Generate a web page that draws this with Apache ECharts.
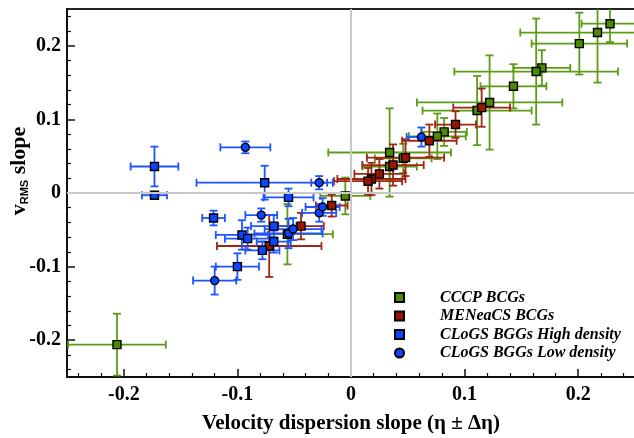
<!DOCTYPE html>
<html>
<head>
<meta charset="utf-8">
<script src="https://cdn.jsdelivr.net/npm/echarts@6/dist/echarts.min.js"></script>
<style>
  html, body { margin: 0; padding: 0; background: #fff; }
  #chart { width: 634px; height: 438px; }
</style>
</head>
<body>
<div id="chart"></div>
<script>
// Each row: [eta, vRMS slope, eta error, slope error]
const cccp = [
  [0.228, 0.230, 0.025, 0.025],
  [0.217, 0.218, 0.068, 0.068],
  [0.201, 0.203, 0.042, 0.042],
  [0.168, 0.170, 0.025, 0.024],
  [0.163, 0.165, 0.072, 0.072],
  [0.143, 0.145, 0.029, 0.030],
  [0.122, 0.123, 0.064, 0.064],
  [0.111, 0.112, 0.048, 0.047],
  [0.082, 0.083, 0.020, 0.019],
  [0.076, 0.077, 0.025, 0.031],
  [0.034, 0.055, 0.054, 0.060],
  [0.046, 0.047, 0.025, 0.020],
  [0.034, 0.036, 0.024, 0.020],
  [-0.005, -0.004, 0.022, 0.025],
  [-0.056, -0.056, 0.040, 0.041],
  [-0.206, -0.206, 0.043, 0.042]
];
const meneacs = [
  [0.115, 0.116, 0.025, 0.026],
  [0.092, 0.093, 0.018, 0.018],
  [0.069, 0.071, 0.024, 0.022],
  [0.048, 0.048, 0.034, 0.025],
  [0.037, 0.038, 0.027, 0.028],
  [0.025, 0.026, 0.022, 0.020],
  [0.018, 0.019, 0.030, 0.022],
  [0.015, 0.016, 0.030, 0.018],
  [-0.017, -0.017, 0.014, 0.015],
  [-0.044, -0.045, 0.020, 0.018],
  [-0.072, -0.072, 0.046, 0.042]
];
const clogsHigh = [
  [-0.173, 0.036, 0.021, 0.027],
  [-0.173, -0.003, 0.011, 0.004],
  [-0.076, 0.014, 0.060, 0.023],
  [-0.055, -0.006, 0.022, 0.012],
  [-0.121, -0.034, 0.010, 0.010],
  [-0.068, -0.045, 0.020, 0.015],
  [-0.096, -0.057, 0.023, 0.020],
  [-0.091, -0.062, 0.020, 0.015],
  [-0.068, -0.066, 0.015, 0.015],
  [-0.078, -0.078, 0.015, 0.012],
  [-0.100, -0.100, 0.019, 0.018]
];
const clogsLow = [
  [-0.093, 0.062, 0.022, 0.008],
  [-0.028, 0.014, 0.007, 0.009],
  [-0.079, -0.030, 0.014, 0.009],
  [-0.120, -0.119, 0.019, 0.019],
  [0.062, 0.076, 0.013, 0.013],
  [-0.055, -0.055, 0.030, 0.020],
  [-0.028, -0.027, 0.015, 0.012],
  [-0.025, -0.019, 0.015, 0.012],
  [-0.051, -0.049, 0.025, 0.015]
];

const groupNames = ['CCCP BCGs', 'MENeaCS BCGs', 'CLoGS BGGs High density', 'CLoGS BGGs Low density'];
const majorTicks = [-0.2, -0.1, 0, 0.1, 0.2];
const minorTicks = [-0.24, -0.22, -0.18, -0.16, -0.14, -0.12, -0.08, -0.06, -0.04, -0.02,
                    0.02, 0.04, 0.06, 0.08, 0.12, 0.14, 0.16, 0.18, 0.22, 0.24];

const SERIF = 'Liberation Serif';

function fmtTick(v) {
  if (Math.abs(v) < 1e-9) return '0';
  return v.toFixed(1);
}

// Cross-shaped error bars with end caps, drawn through the axis scales
function errorBars(rows, color, name) {
  return {
    type: 'custom',
    name: name + ' errors',
    data: rows,
    clip: true,
    silent: true,
    encode: { x: 0, y: 1 },
    renderItem: function (params, api) {
      const x = api.value(0), y = api.value(1), dx = api.value(2), dy = api.value(3);
      const L = api.coord([x - dx, y]), R = api.coord([x + dx, y]);
      const T = api.coord([x, y + dy]), B = api.coord([x, y - dy]);
      const c = 4;
      const st = { stroke: color, lineWidth: 1.8, fill: null };
      const seg = (x1, y1, x2, y2) => ({ type: 'line', shape: { x1, y1, x2, y2 }, style: st });
      return {
        type: 'group',
        children: [
          seg(L[0], L[1], R[0], R[1]),
          seg(L[0], L[1] - c, L[0], L[1] + c),
          seg(R[0], R[1] - c, R[0], R[1] + c),
          seg(T[0], T[1], B[0], B[1]),
          seg(T[0] - c, T[1], T[0] + c, T[1]),
          seg(B[0] - c, B[1], B[0] + c, B[1])
        ]
      };
    }
  };
}

function markers(rows, fill, symbol, name) {
  return {
    type: 'scatter',
    name: name,
    data: rows,
    encode: { x: 0, y: 1 },
    symbol: symbol,
    symbolSize: 8,
    silent: true,
    itemStyle: { color: fill, borderColor: '#000', borderWidth: 1.4, opacity: 1 }
  };
}

const GREEN = '#4b8b00', GREEN_BAR = '#5c9c16';
const RED = '#9b1500', RED_BAR = '#a02614';
const BLUE = '#0b46ff', BLUE_BAR = '#1f55ff';

const chart = echarts.init(document.getElementById('chart'), null, { renderer: 'canvas' });

const axisFont = { fontFamily: SERIF, fontWeight: 'bold', fontSize: 20, color: '#000' };

chart.setOption({
  animation: false,
  backgroundColor: '#fff',
  grid: {
    left: 67, top: 9, width: 568, height: 368,
    show: true, borderColor: '#222', borderWidth: 2,
    outerBoundsMode: 'none'
  },
  xAxis: [
    {
      type: 'value', min: -0.25, max: 0.25, position: 'bottom',
      axisLine: { onZero: false, lineStyle: { color: '#111', width: 2 } },
      axisTick: { inside: true, length: 8, customValues: majorTicks, lineStyle: { color: '#111', width: 1.5 } },
      axisLabel: Object.assign({ customValues: majorTicks, formatter: fmtTick, margin: 8 }, axisFont),
      splitLine: { show: false },
      name: 'Velocity dispersion slope (η ± Δη)',
      nameLocation: 'middle', nameGap: 36,
      nameTextStyle: { fontFamily: SERIF, fontWeight: 'bold', fontSize: 21, color: '#000' }
    },
    {
      type: 'value', min: -0.25, max: 0.25, position: 'bottom',
      axisLine: { show: false, onZero: false },
      axisTick: { inside: true, length: 4, customValues: minorTicks, lineStyle: { color: '#111', width: 1.2 } },
      axisLabel: { show: false },
      splitLine: { show: false }
    }
  ],
  yAxis: [
    {
      type: 'value', min: -0.25, max: 0.25, position: 'left',
      axisLine: { onZero: false, lineStyle: { color: '#111', width: 2 } },
      axisTick: { inside: true, length: 8, customValues: majorTicks, lineStyle: { color: '#111', width: 1.5 } },
      axisLabel: Object.assign({ customValues: majorTicks, formatter: fmtTick, margin: 6 }, axisFont),
      splitLine: { show: false }
    },
    {
      type: 'value', min: -0.25, max: 0.25, position: 'left',
      axisLine: { show: false, onZero: false },
      axisTick: { inside: true, length: 4, customValues: minorTicks, lineStyle: { color: '#111', width: 1.2 } },
      axisLabel: { show: false },
      splitLine: { show: false }
    }
  ],
  legend: {
    orient: 'vertical',
    left: 389, top: 284,
    itemWidth: 9, itemHeight: 9, itemGap: 1.5,
    selectedMode: false,
    data: [
      { name: groupNames[0], icon: 'rect' },
      { name: groupNames[1], icon: 'rect' },
      { name: groupNames[2], icon: 'rect' },
      { name: groupNames[3], icon: 'circle' }
    ],
    textStyle: {
      fontFamily: SERIF, fontWeight: 'bold', fontStyle: 'italic', fontSize: 16,
      color: '#000', lineHeight: 17, padding: [0, 0, 0, 31]
    }
  },
  graphic: [
    {
      type: 'text', x: 18, y: 171, rotation: Math.PI / 2,
      style: {
        text: '{v|v}{sub|RMS}{s| slope}',
        align: 'center', verticalAlign: 'middle',
        rich: {
          v: { fontFamily: SERIF, fontWeight: 'bold', fontSize: 22, lineHeight: 24, verticalAlign: 'bottom', fill: '#000' },
          sub: { fontFamily: 'Liberation Sans', fontWeight: 'bold', fontSize: 11, lineHeight: 11, verticalAlign: 'bottom', fill: '#000' },
          s: { fontFamily: SERIF, fontWeight: 'bold', fontSize: 22, lineHeight: 24, verticalAlign: 'bottom', fill: '#000' }
        }
      }
    }
  ],
  series: [
    {
      type: 'scatter', name: 'zero lines', data: [], silent: true,
      markLine: {
        silent: true, symbol: 'none', label: { show: false },
        lineStyle: { color: '#c8c8c8', width: 2, type: 'solid' },
        data: [{ xAxis: 0 }, { yAxis: 0 }]
      }
    },
    errorBars(cccp, GREEN_BAR, groupNames[0]),
    markers(cccp, GREEN, 'rect', groupNames[0]),
    errorBars(meneacs, RED_BAR, groupNames[1]),
    markers(meneacs, RED, 'rect', groupNames[1]),
    errorBars(clogsHigh, BLUE_BAR, groupNames[2]),
    markers(clogsHigh, BLUE, 'rect', groupNames[2]),
    errorBars(clogsLow, BLUE_BAR, groupNames[3]),
    markers(clogsLow, BLUE, 'circle', groupNames[3])
  ]
});
</script>
</body>
</html>
